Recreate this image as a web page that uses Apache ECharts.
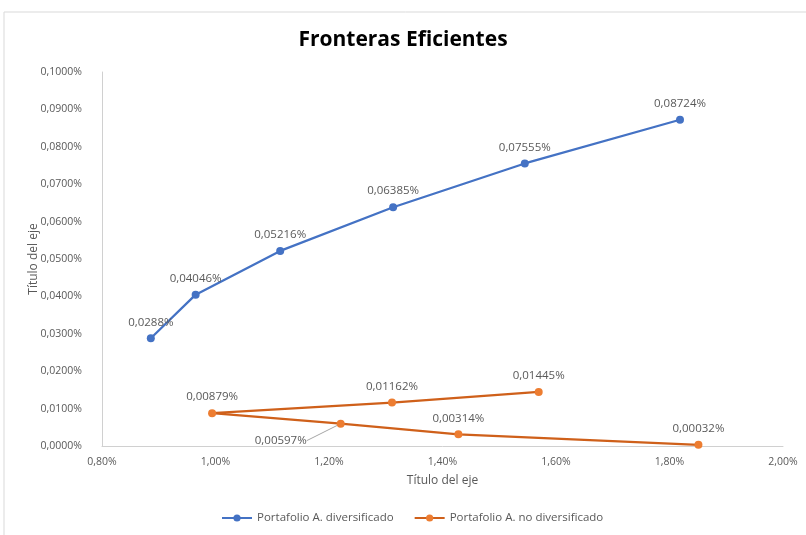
<!DOCTYPE html>
<html>
<head>
<meta charset="utf-8">
<script src="https://cdn.jsdelivr.net/npm/echarts@6/dist/echarts.min.js"></script>
<style>
  html, body { margin: 0; padding: 0; background: #ffffff; }
  #chart { width: 806px; height: 535px; }
</style>
</head>
<body>
<div id="chart"></div>
<script>
// Risk (x, %) and return (y, %) for each portfolio frontier
const seriesNames = ['Portafolio A. diversificado', 'Portafolio A. no diversificado'];
const riskDiversified   = [0.886, 0.965, 1.114, 1.313, 1.545, 1.8185];
const returnDiversified = [0.0288, 0.04046, 0.05216, 0.06385, 0.07555, 0.08724];
const riskUndiversified   = [1.5695, 1.311, 0.994, 1.2206, 1.428, 1.851];
const returnUndiversified = [0.01445, 0.01162, 0.00879, 0.00597, 0.00314, 0.00032];

const xTicks = { min: 0.8, max: 2.0, step: 0.2 };
const yTicks = { min: 0, max: 0.1, step: 0.01 };

const labelFont = 'Open Sans';
const grey = '#595959';

const pct = (v, d) => v.toFixed(d).replace('.', ',') + '%';
const valueLabel = p => String(p.value[1]).replace('.', ',') + '%';

const zip = (xs, ys) => xs.map((x, i) => [x, ys[i]]);

const chart = echarts.init(document.getElementById('chart'), null, { renderer: 'canvas' });

const dataLabel = {
  show: true, position: 'top', distance: 6,
  fontFamily: labelFont, fontSize: 11.5, color: grey,
  formatter: valueLabel
};

chart.setOption({
  backgroundColor: '#ffffff',
  animation: false,
  graphic: [{
    type: 'rect',
    shape: { x: 4, y: 12, width: 820, height: 540 },
    style: { fill: 'none', stroke: '#d9d9d9', lineWidth: 1 },
    silent: true
  }],
  title: {
    text: 'Fronteras Eficientes',
    left: 'center',
    top: 25,
    textStyle: {
      fontFamily: '"Open Sans", sans-serif',
      fontWeight: 'bold',
      fontSize: 21,
      color: '#000000'
    }
  },
  grid: { left: 102, right: 23, top: 72, bottom: 89, containLabel: false },
  legend: {
    bottom: 6,
    left: 216,
    itemWidth: 30,
    itemHeight: 9,
    itemGap: 20,
    textStyle: { fontFamily: labelFont, fontSize: 11.5, color: grey },
    data: seriesNames
  },
  xAxis: {
    type: 'value',
    min: xTicks.min,
    max: xTicks.max,
    interval: xTicks.step,
    name: 'Título del eje',
    nameLocation: 'middle',
    nameGap: 29,
    nameTextStyle: { fontFamily: labelFont, fontSize: 12, color: grey },
    axisLine: { show: true, lineStyle: { color: '#d0d0d0', width: 1 } },
    axisTick: { show: false },
    splitLine: { show: false },
    axisLabel: {
      fontFamily: labelFont, fontSize: 10.5, color: grey, margin: 11,
      formatter: v => pct(v, 2)
    }
  },
  yAxis: {
    type: 'value',
    min: yTicks.min,
    max: yTicks.max,
    interval: yTicks.step,
    name: 'Título del eje',
    nameLocation: 'middle',
    nameGap: 62,
    nameMoveOverlap: false,
    nameTextStyle: { fontFamily: labelFont, fontSize: 12, color: grey },
    axisLine: { show: true, lineStyle: { color: '#d0d0d0', width: 1 } },
    axisTick: { show: false },
    splitLine: { show: false },
    axisLabel: {
      fontFamily: labelFont, fontSize: 10.5, color: grey, margin: 20,
      formatter: v => pct(v, 4)
    }
  },
  series: [
    {
      name: seriesNames[0],
      type: 'line',
      data: zip(riskDiversified, returnDiversified),
      symbol: 'circle',
      symbolSize: 8,
      lineStyle: { color: '#4472C4', width: 2.25 },
      itemStyle: { color: '#4472C4' },
      label: dataLabel
    },
    {
      name: seriesNames[1],
      type: 'line',
      data: zip(riskUndiversified, returnUndiversified).map((pt, i) =>
        i === 3
          ? { value: pt, label: { position: 'left' }, labelLine: { show: true } }
          : { value: pt }
      ),
      symbol: 'circle',
      symbolSize: 8,
      lineStyle: { color: '#CF601A', width: 2.25 },
      itemStyle: { color: '#ED7D31' },
      label: dataLabel,
      labelLine: { show: false, lineStyle: { color: '#a6a6a6', width: 1 } },
      labelLayout: p => (p.dataIndex === 3 ? { dx: -24, dy: 17 } : {})
    }
  ]
});
</script>
</body>
</html>
